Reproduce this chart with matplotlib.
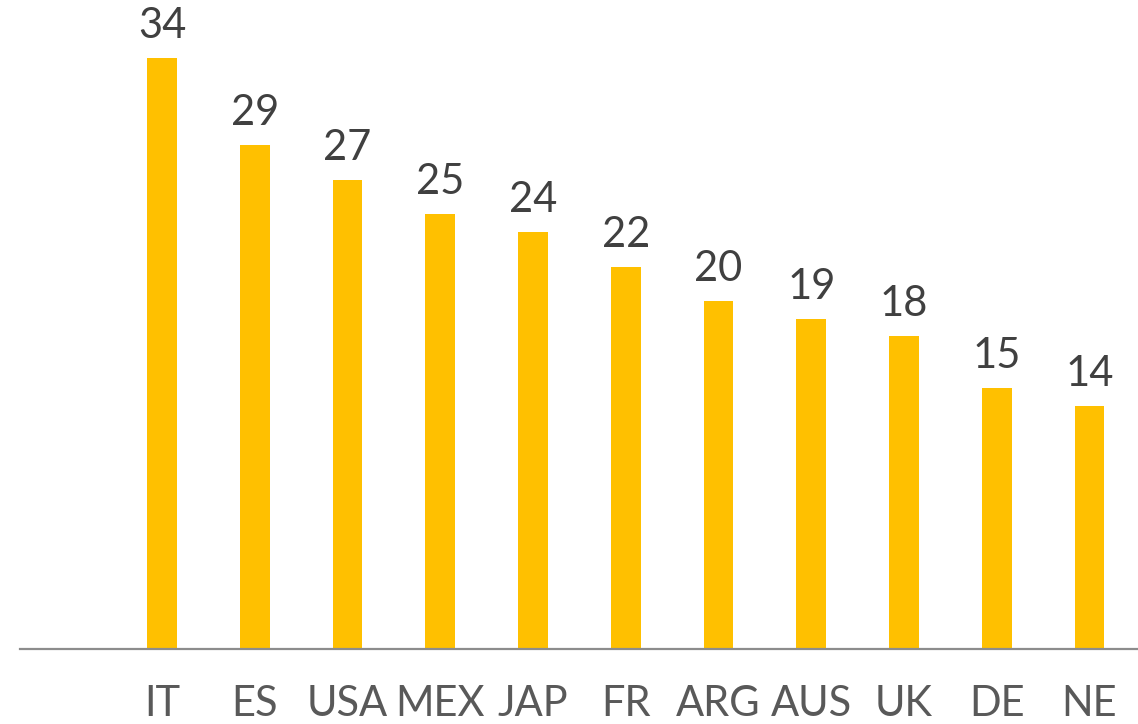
import matplotlib
matplotlib.use("Agg")
import matplotlib.pyplot as plt

categories = ["", "IT", "ES", "USA", "MEX", "JAP", "FR", "ARG", "AUS", "UK", "DE", "NE"]
values = [None, 34, 29, 27, 25, 24, 22, 20, 19, 18, 15, 14]

plt.rcParams['font.family'] = ['Lato', 'DejaVu Sans']

fig = plt.figure(figsize=(11.38, 7.24), dpi=100)
ax = fig.add_axes([20/1138, 75/724, 1 - 20/1138, 649/724])

xs = [i for i, v in enumerate(values) if v is not None]
vs = [v for v in values if v is not None]
bars = ax.bar(xs, vs, width=0.32, color="#FFC000", zorder=2)

for x, v in zip(xs, vs):
    ax.annotate(str(v), xy=(x, v), xytext=(0, 20), textcoords="offset pixels",
                ha="center", va="baseline", fontsize=30, color="#404040")

ax.set_xlim(-0.531, 11.523)
ax.set_ylim(0, 649 / (591 / 34))
ax.set_xticks(range(len(categories)))
ax.set_xticklabels(categories, fontsize=30, color="#595959")
ax.tick_params(axis="x", length=0, pad=26)
ax.set_yticks([])
for s in ["top", "right", "left"]:
    ax.spines[s].set_visible(False)
ax.spines["bottom"].set_color("#8C8C8C")
ax.spines["bottom"].set_linewidth(1.6)

fig.savefig("out.png", dpi=100)
